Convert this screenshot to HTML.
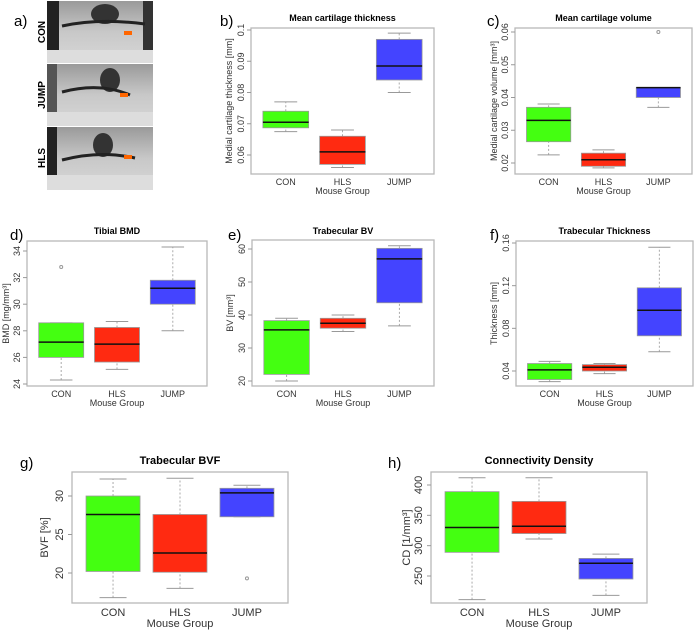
<!DOCTYPE html>
<html><head><meta charset="utf-8"><style>
body{margin:0;background:#fff;}
svg{display:block;font-family:"Liberation Sans",sans-serif;}
</style></head><body>
<svg id="fig" width="700" height="630" viewBox="0 0 700 630">
  <g>
    <defs>
      <linearGradient id="bone" x1="0" y1="0" x2="0" y2="1">
        <stop offset="0" stop-color="#9a9a9a"/><stop offset="0.5" stop-color="#c8c8c8"/><stop offset="1" stop-color="#d8d8d8"/>
      </linearGradient>
    </defs>
    <g>
      <rect x="47" y="1" width="106" height="62" fill="url(#bone)"/>
      <rect x="47" y="1" width="12" height="62" fill="#222"/>
      <rect x="143" y="1" width="10" height="62" fill="#333"/>
      <ellipse cx="105" cy="14" rx="14" ry="10" fill="#333"/>
      <path d="M62 26 Q100 18 145 24" stroke="#222" stroke-width="3" fill="none"/>
      <rect x="124" y="31" width="8" height="4" fill="#f60"/>
      <rect x="47" y="50" width="106" height="13" fill="#ddd"/>
    </g>
    <g>
      <rect x="47" y="64" width="106" height="62" fill="url(#bone)"/>
      <rect x="47" y="64" width="10" height="62" fill="#555"/>
      <ellipse cx="110" cy="80" rx="10" ry="12" fill="#333"/>
      <path d="M62 92 Q100 82 130 95" stroke="#222" stroke-width="3" fill="none"/>
      <rect x="120" y="93" width="8" height="4" fill="#f60"/>
      <rect x="47" y="112" width="106" height="14" fill="#ddd"/>
    </g>
    <g>
      <rect x="47" y="127" width="106" height="63" fill="url(#bone)"/>
      <rect x="47" y="127" width="10" height="63" fill="#222"/>
      <ellipse cx="103" cy="145" rx="10" ry="12" fill="#333"/>
      <path d="M62 160 Q100 150 135 158" stroke="#222" stroke-width="3" fill="none"/>
      <rect x="124" y="155" width="8" height="4" fill="#f60"/>
      <rect x="47" y="175" width="106" height="15" fill="#ddd"/>
    </g>
    <line x1="47" y1="63.5" x2="153" y2="63.5" stroke="#fff"/>
    <line x1="47" y1="126.5" x2="153" y2="126.5" stroke="#fff"/>
    <text x="14" y="26" font-size="15">a)</text>
    <text transform="translate(45,32) rotate(-90)" text-anchor="middle" font-size="10" font-weight="bold">CON</text>
    <text transform="translate(45,95) rotate(-90)" text-anchor="middle" font-size="10" font-weight="bold">JUMP</text>
    <text transform="translate(45,158) rotate(-90)" text-anchor="middle" font-size="10" font-weight="bold">HLS</text>
  </g>
</svg>
<script>
const categories = ["CON","HLS","JUMP"];
const colors = ["#44ff11","#ff2a11","#4444ff"];
// per-panel stats: [lowWhisker, q1, median, q3, highWhisker]
const bStats = [[0.0675,0.0687,0.0705,0.074,0.077],[0.056,0.057,0.061,0.066,0.068],[0.080,0.084,0.0885,0.097,0.099]];
const bOut = [[],[],[]];
const bTicks = [0.06,0.07,0.08,0.09,0.10];
const cStats = [[0.0225,0.0265,0.033,0.037,0.038],[0.0185,0.019,0.021,0.023,0.024],[0.037,0.040,0.043,0.043,0.043]];
const cOut = [[],[],[0.060]];
const cTicks = [0.02,0.03,0.04,0.05,0.06];
const dStats = [[24.3,26,27.15,28.6,28.6],[25.1,25.65,27,28.25,28.7],[28,30,31.2,31.8,34.3]];
const dOut = [[32.8],[],[]];
const dTicks = [24,26,28,30,32,34];
const eStats = [[20,22,35.5,38.3,39],[35,36,37.5,39,40],[36.7,43.7,57,60.2,61]];
const eOut = [[],[],[]];
const eTicks = [20,30,40,50,60];
const fStats = [[0.030,0.032,0.041,0.047,0.049],[0.0375,0.040,0.0435,0.046,0.047],[0.058,0.073,0.097,0.118,0.156]];
const fOut = [[],[],[]];
const fTicks = [0.04,0.08,0.12,0.16];
const gStats = [[16.8,20.2,27.6,30,32.2],[18,20.1,22.6,27.6,32.3],[27.3,27.3,30.4,31,31.4]];
const gOut = [[],[],[19.3]];
const gTicks = [20,25,30];
const hStats = [[211,289,330,389,412],[311,320,332,373,412],[218,245,271,279,286]];
const hOut = [[],[],[]];
const hTicks = [250,300,350,400];

const NS="http://www.w3.org/2000/svg";
const fig=document.getElementById("fig");
function mk(tag,attrs,parent,text){const e=document.createElementNS(NS,tag);for(const k in attrs)e.setAttribute(k,attrs[k]);if(text!==undefined)e.textContent=text;parent.appendChild(e);return e;}

function panel(p){
  const g=mk("g",{},fig);
  
  
  const y=v=>p.y0+(v-p.v0)*(p.y1-p.y0)/(p.v1-p.v0);
  const fs=p.fs;
  const lab=mk("text",{x:p.lx,y:p.ly,"font-size":15},g,p.id+")");
  
  
  const t=mk("text",{x:(p.L+p.R)/2,y:p.ty,"text-anchor":"middle","font-size":fs,"font-weight":"bold"},g,p.title);
  
  
  const fr=mk("rect",{x:p.L,y:p.T,width:p.R-p.L,height:p.B-p.T,fill:"none",stroke:"#b8b8b8","stroke-width":1.3},g);
  
  
  p.ticks.forEach(v=>{
    const yy=y(v);
    const tk=mk("line",{x1:p.L-4,x2:p.L,y1:yy,y2:yy,stroke:"#999"},g);
    
    
    const tl=mk("text",{transform:`translate(${p.L-p.tg},${yy}) rotate(-90)`,"text-anchor":"middle","font-size":fs,fill:"#333"},g,String(v));
    
    
  });
  const yl=mk("text",{transform:`translate(${p.yx},${(p.T+p.B)/2}) rotate(-90)`,"text-anchor":"middle","font-size":fs,fill:"#333"},g,p.ylabel);
  
  
  const w=p.R-p.L, bw=w*0.25, step=w*0.31, c0=p.L+w/2-step;
  categories.forEach((c,i)=>{
    const cx=c0+i*step, s=p.stats[i];
    const bg=mk("g",{},g);
    
    
    mk("line",{x1:cx,x2:cx,y1:y(s[0]),y2:y(s[1]),stroke:"#aaa","stroke-dasharray":"2,2"},bg);
    mk("line",{x1:cx,x2:cx,y1:y(s[3]),y2:y(s[4]),stroke:"#aaa","stroke-dasharray":"2,2"},bg);
    mk("line",{x1:cx-bw/4,x2:cx+bw/4,y1:y(s[0]),y2:y(s[0]),stroke:"#999"},bg);
    mk("line",{x1:cx-bw/4,x2:cx+bw/4,y1:y(s[4]),y2:y(s[4]),stroke:"#999"},bg);
    mk("rect",{x:cx-bw/2,y:y(s[3]),width:bw,height:Math.max(1,y(s[1])-y(s[3])),fill:colors[i],stroke:"#999","stroke-width":0.8},bg);
    mk("line",{x1:cx-bw/2,x2:cx+bw/2,y1:y(s[2]),y2:y(s[2]),stroke:"#111","stroke-width":1.5},bg);
    p.out[i].forEach(o=>{
      const oc=mk("circle",{cx:cx,cy:y(o),r:1.5,fill:"none",stroke:"#999"},g);
      
      
    });
    const cl=mk("text",{x:cx,y:p.B+fs+2,"text-anchor":"middle","font-size":fs,fill:"#333"},g,c);
    
    
  });
  const xl=mk("text",{x:(p.L+p.R)/2,y:p.B+2*fs+2,"text-anchor":"middle","font-size":fs,fill:"#333"},g,"Mouse Group");
  
  
}

panel({id:"b",title:"Mean cartilage thickness",ylabel:"Medial cartilage thickness [mm]",L:251,R:434,T:28,B:174,y0:155,v0:0.06,y1:30,v1:0.10,ticks:bTicks,stats:bStats,out:bOut,fs:9,tg:7,lx:220,ly:26,ty:21,yx:232});
panel({id:"c",title:"Mean cartilage volume",ylabel:"Medial cartilage volume [mm³]",L:515,R:692,T:28,B:174,y0:163,v0:0.02,y1:32,v1:0.06,ticks:cTicks,stats:cStats,out:cOut,fs:9,tg:7,lx:487,ly:26,ty:21,yx:497});
panel({id:"d",title:"Tibial BMD",ylabel:"BMD [mg/mm³]",L:27,R:207,T:241,B:386,y0:384,v0:24,y1:251,v1:34,ticks:dTicks,stats:dStats,out:dOut,fs:9,tg:7,lx:10,ly:240,ty:234,yx:9});
panel({id:"e",title:"Trabecular BV",ylabel:"BV [mm³]",L:252,R:434,T:240,B:386,y0:381,v0:20,y1:249,v1:60,ticks:eTicks,stats:eStats,out:eOut,fs:9,tg:7,lx:228,ly:240,ty:234,yx:233});
panel({id:"f",title:"Trabecular Thickness",ylabel:"Thickness [mm]",L:516,R:693,T:241,B:386,y0:371,v0:0.04,y1:243,v1:0.16,ticks:fTicks,stats:fStats,out:fOut,fs:9,tg:7,lx:490,ly:240,ty:234,yx:497});
panel({id:"g",title:"Trabecular BVF",ylabel:"BVF [%]",L:72,R:288,T:472,B:603,y0:573,v0:20,y1:496,v1:30,ticks:gTicks,stats:gStats,out:gOut,fs:11,tg:9,lx:20,ly:468,ty:464,yx:48});
panel({id:"h",title:"Connectivity Density",ylabel:"CD [1/mm³]",L:431,R:647,T:472,B:603,y0:576,v0:250,y1:485,v1:400,ticks:hTicks,stats:hStats,out:hOut,fs:11,tg:9,lx:388,ly:468,ty:464,yx:410});
</script>
</body></html>
